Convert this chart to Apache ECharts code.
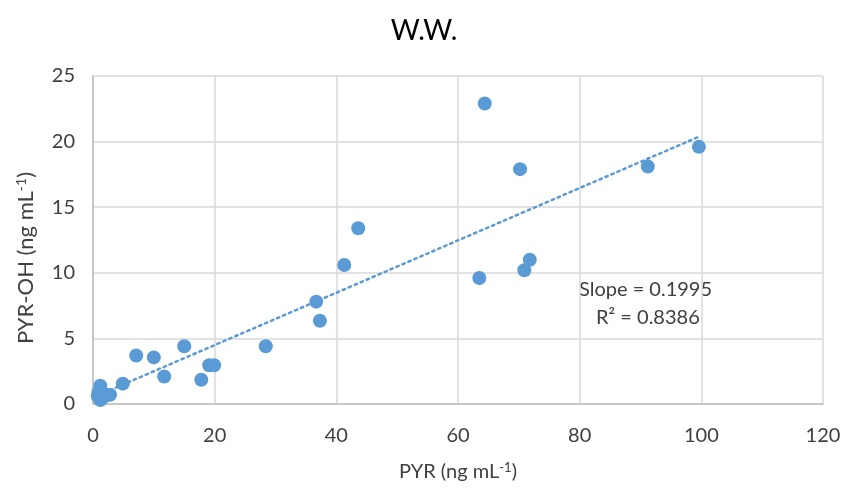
<!DOCTYPE html>
<html><head><meta charset="utf-8">
<script src="https://cdn.jsdelivr.net/npm/echarts@6/dist/echarts.min.js"></script>
<style>html,body{margin:0;padding:0;background:#fff}#c{width:848px;height:490px}</style>
</head><body><div id="c"></div>
<script>
const titleText = 'W.W.';
const pyr =    [64.4, 70.2, 91.2, 99.6, 43.6, 41.3, 36.7, 37.3, 63.5, 70.9, 71.8, 28.4, 15.0, 10.0, 7.1, 11.7, 17.8, 19.1, 19.9, 4.9, 1.2, 0.8, 1.2, 1.6, 2.2, 2.8, 0.9, 1.5];
const pyrOH =  [22.9, 17.9, 18.1, 19.6, 13.4, 10.6, 7.8, 6.35, 9.6, 10.2, 11.0, 4.4, 4.4, 3.55, 3.7, 2.1, 1.85, 2.95, 2.95, 1.55, 1.4, 0.6, 0.3, 0.5, 0.7, 0.7, 0.9, 0.8];
const trendX = [0.8, 99.6];
const trendY = [0.66, 20.37];
const xTicks = [0, 20, 40, 60, 80, 100, 120];
const yTicks = [0, 5, 10, 15, 20, 25];
const slopeText = 'Slope = 0.1995';
const r2Text = 'R² = 0.8386';

const FONT = 'Lato, "Open Sans", sans-serif';
const TXT = '#404040';
const nameRichX = {
  a: {fontFamily: FONT, fontSize: 20, color: TXT},
  s: {fontFamily: FONT, fontSize: 13, color: TXT, verticalAlign: 'top', padding: [0,0,9,0]}
};
const nameRichY = {
  a: {fontFamily: FONT, fontSize: 22, color: TXT},
  s: {fontFamily: FONT, fontSize: 14, color: TXT, verticalAlign: 'top', padding: [0,0,10,0]}
};
const chart = echarts.init(document.getElementById('c'));
chart.setOption({
  animation: false,
  backgroundColor: '#fff',
  title: {text: titleText, left: 'center', top: 12, textStyle: {fontFamily: FONT, fontSize: 28, fontWeight: 'normal', color: '#000'}},
  grid: {left: 93, right: 25, top: 76, bottom: 86},
  xAxis: {
    type: 'value', min: xTicks[0], max: xTicks[xTicks.length-1], interval: 20,
    name: '{a|PYR (ng mL}{s|-1}{a|)}', nameLocation: 'middle', nameGap: 57,
    nameTextStyle: {fontSize: 20, fontFamily: FONT, rich: nameRichX},
    axisLine: {show: true, lineStyle: {color: '#bfbfbf', width: 1.5}},
    axisTick: {show: false},
    axisLabel: {fontFamily: FONT, fontSize: 20, color: TXT, margin: 22},
    splitLine: {show: true, lineStyle: {color: '#d9d9d9', width: 1.5}}
  },
  yAxis: {
    type: 'value', min: yTicks[0], max: yTicks[yTicks.length-1], interval: 5,
    name: '{a|PYR-OH (ng mL}{s|-1}{a|)}', nameLocation: 'middle', nameGap: 55, nameRotate: 90,
    nameTextStyle: {fontSize: 22, fontFamily: FONT, rich: nameRichY, padding: [0, 36, 0, 0]},
    axisLine: {show: true, lineStyle: {color: '#bfbfbf', width: 1.5}},
    axisTick: {show: false},
    axisLabel: {fontFamily: FONT, fontSize: 20, color: TXT, margin: 18},
    splitLine: {show: true, lineStyle: {color: '#d9d9d9', width: 1.5}}
  },
  series: [
    {type: 'line', data: trendX.map((x,i)=>[x, trendY[i]]), symbol: 'none', z: 3,
     lineStyle: {color: '#5B9BD5', width: 2.5, type: [2.5, 4], cap: 'round'}},
    {type: 'scatter', data: pyr.map((x,i)=>[x, pyrOH[i]]), symbolSize: 14, z: 4,
     itemStyle: {color: '#5B9BD5', opacity: 1}}
  ],
  graphic: [
    {type: 'text', left: 579, top: 280, style: {text: slopeText, fontFamily: FONT, fontSize: 20, fill: TXT}},
    {type: 'text', left: 596, top: 308, style: {text: r2Text, fontFamily: FONT, fontSize: 20, fill: TXT}}
  ]
});
</script></body></html>
